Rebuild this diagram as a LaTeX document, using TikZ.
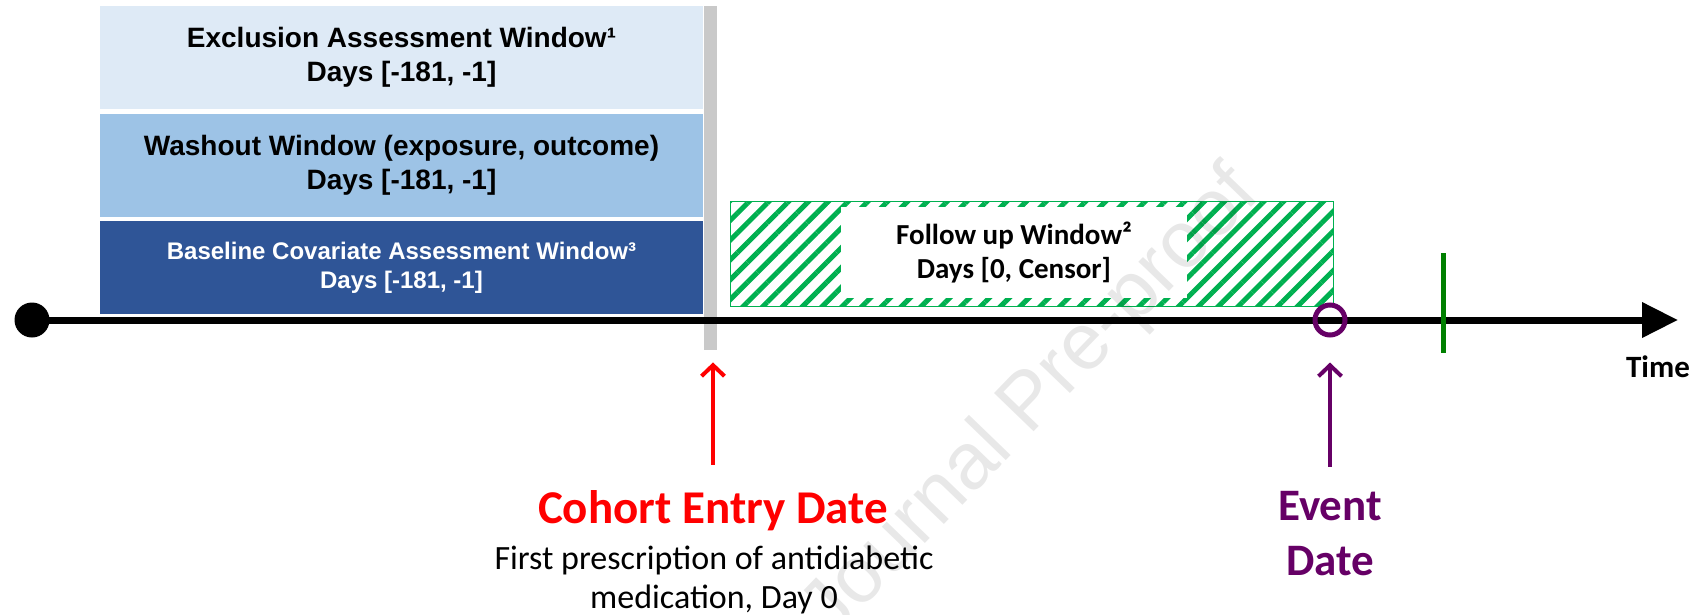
\documentclass[tikz,border=0pt]{standalone}
\usepackage{fontspec}
\setmainfont{Liberation Sans}
\newfontfamily\calibri{Carlito}
\usetikzlibrary{arrows.meta,patterns.meta}

\definecolor{exclfill}{HTML}{DEEAF6}
\definecolor{washfill}{HTML}{9DC3E6}
\definecolor{basefill}{HTML}{2F5597}
\definecolor{barfill}{HTML}{C9C9C9}
\definecolor{hatchgreen}{HTML}{00B050}
\definecolor{tickgreen}{HTML}{008000}
\definecolor{eventpurple}{HTML}{660066}
\definecolor{entryred}{HTML}{FF0000}

\begin{document}
\begin{tikzpicture}[x=1pt,y=-1pt,
  window/.style={rectangle, inner sep=0pt, minimum width=603pt, align=center,
    font=\bfseries\fontsize{28}{33.6}\selectfont},
  caption/.style={inner sep=0pt, anchor=base},
  pointer/.style={line width=4pt, -{Straight Barb[length=11pt,width=23pt]}}]

\useasboundingbox (0,0) rectangle (1698,614);

% pre-entry assessment windows
\node[window, fill=exclfill, minimum height=103pt] (excl) at (401.5,57.5)
  {Exclusion Assessment Window¹\\Days [-181, -1]};
\node[window, fill=washfill, minimum height=103pt] (wash) at (401.5,165.5)
  {Washout Window (exposure, outcome)\\Days [-181, -1]};
\node[window, fill=basefill, minimum height=93pt, text=white,
  font=\bfseries\fontsize{24}{28.8}\selectfont] (base) at (401.5,267.5)
  {Baseline Covariate Assessment Window³\\Days [-181, -1]};

% day 0 marker bar
\node[fill=barfill, inner sep=0pt, minimum width=13pt, minimum height=344pt,
  anchor=north west] (bar) at (704,6) {};

% follow-up window
\node[inner sep=0pt, minimum width=603pt, minimum height=105pt, anchor=north west,
  draw=hatchgreen, line width=1.5pt,
  pattern={Lines[angle=45,distance=14pt,line width=5pt]}, pattern color=hatchgreen]
  (follow) at (728,199) {};
\node[fill=white, inner sep=0pt, minimum width=346pt, minimum height=91pt, align=center,
  font=\calibri\bfseries\fontsize{29}{34}\selectfont] (followtext) at (1014,252.5)
  {Follow up Window²\\Days [0, Censor]};

% time axis
\node[circle, fill=black, inner sep=0pt, minimum size=35pt] (origin) at (32,320) {};
\coordinate (timeend) at (1678,320);
\draw[line width=7pt, -{Triangle[length=36pt,width=34pt]}] (origin.center) -- (timeend);
\node[caption, font=\calibri\bfseries\fontsize{31}{37}\selectfont] (timelabel) at (1658,377) {Time};

% event and censoring marks
\node[circle, draw=eventpurple, line width=5pt, inner sep=0pt, minimum size=30pt] (event) at (1330,320) {};
\draw[tickgreen, line width=5pt] (1443,253) -- (1443,353);

% cohort entry label
\node[caption, text=entryred, font=\calibri\bfseries\fontsize{47}{56}\selectfont] (cohort) at (713,523) {Cohort Entry Date};
\node[caption, font=\calibri\fontsize{34}{41}\selectfont] (cohortnoteA) at (714,569) {First prescription of antidiabetic};
\node[caption, font=\calibri\fontsize{34}{41}\selectfont] (cohortnoteB) at (714,608) {medication, Day 0};
\draw[pointer, entryred, shorten <=25pt, shorten >=12pt] (cohort.north) -- (cohort.north |- bar.south);

% event date label
\node[caption, text=eventpurple, font=\calibri\bfseries\fontsize{45}{55}\selectfont] (eventword) at (1330,520) {Event};
\node[caption, text=eventpurple, font=\calibri\bfseries\fontsize{45}{55}\selectfont] (eventdate) at (1330,575) {Date};
\draw[pointer, eventpurple, shorten <=24pt, shorten >=25pt] (eventword.north) -- (event.south);

% watermark
\node[rotate=46, text=black, text opacity=0.09, inner sep=0pt,
  font=\fontsize{80}{80}\selectfont] (watermark) at (1032,404) {Journal Pre-proof};
\end{tikzpicture}
\end{document}
